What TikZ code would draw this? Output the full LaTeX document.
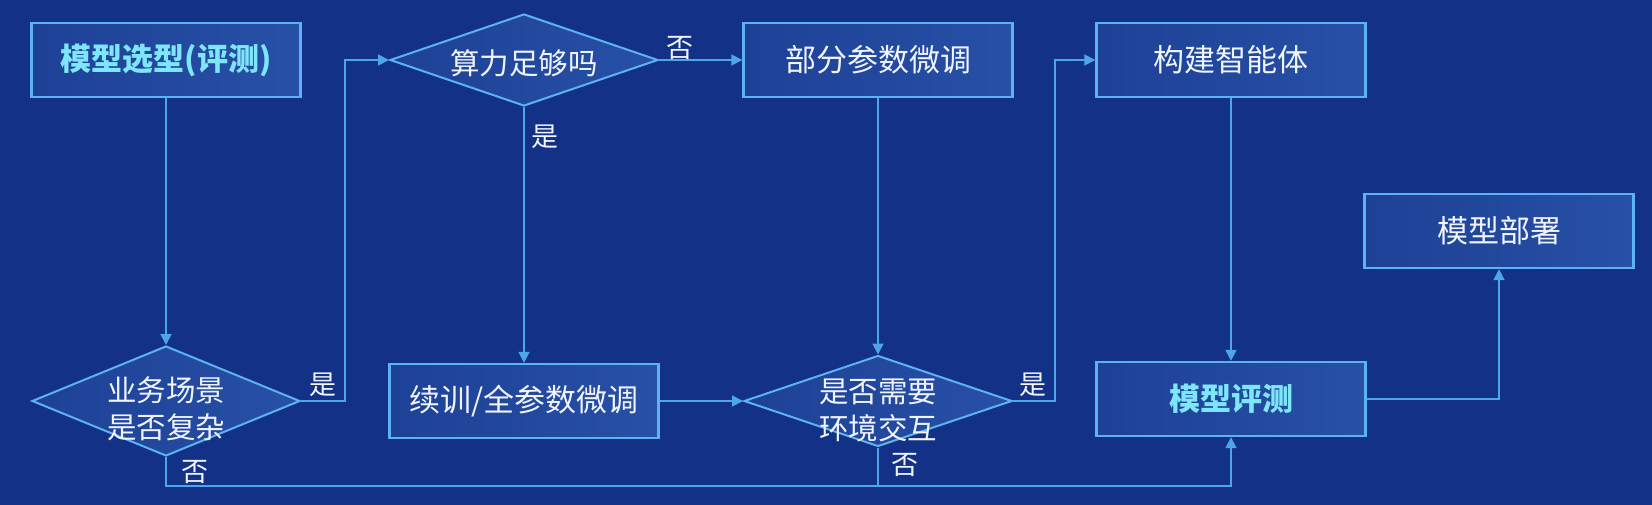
\documentclass[tikz,border=0pt]{standalone}
\usepackage{fontspec}
\setmainfont{Noto Sans CJK SC}
\usetikzlibrary{shapes.geometric,arrows.meta}
\definecolor{bg}{HTML}{133186}
\definecolor{boxL}{HTML}{1D4196}
\definecolor{boxR}{HTML}{2750A6}
\definecolor{border}{HTML}{5CB2F2}
\definecolor{conn}{HTML}{4EA6EA}
\definecolor{txt}{HTML}{F0F4FF}
\definecolor{hl}{HTML}{7DE6FA}
\tikzset{
  stepbox/.style={draw=border, line width=2.4pt, left color=boxL, right color=boxR,
    minimum width=269pt, minimum height=74pt, inner sep=0pt, text=txt,
    font=\fontsize{31}{36}\selectfont},
  hlbox/.style={stepbox, text=hl, font=\fontsize{31}{36}\selectfont\bfseries},
  decide/.style={diamond, draw=border, line width=2pt, left color=boxL, right color=boxR,
    inner sep=0pt, minimum width=268pt},
  dtext/.style={text=txt, align=center, inner sep=0pt, font=\fontsize{29.5}{37}\selectfont},
  lbl/.style={text=txt, inner sep=0pt, font=\fontsize{27}{30}\selectfont},
  conn/.style={draw=conn, line width=1.8pt},
  arr/.style={conn, -{Triangle[length=11pt,width=11pt]}},
}
\begin{document}
\begin{tikzpicture}[x=1pt,y=-1pt]
\fill[bg] (0,0) rectangle (1652,505);
\useasboundingbox (0,0) rectangle (1652,505);

% boxes
\node[hlbox]   (b1) at (166,60)   {模型选型(评测)};
\node[stepbox] (bp) at (878,60)   {部分参数微调};
\node[stepbox] (ba) at (1231,60)  {构建智能体};
\node[stepbox] (bd) at (1499,231) {模型部署};
\node[stepbox] (bc) at (524,401)  {续训/全参数微调};
\node[hlbox]   (be) at (1231,399) {模型评测};

% decisions
\node[decide, minimum height=92pt]  (d1) at (524,60)  {};
\node[decide, minimum height=110pt] (d2) at (166,401) {};
\node[decide, minimum height=91pt]  (d3) at (878,401) {};
\node[dtext] (t1) at (524,63)  {算力足够吗};
\node[dtext] (t2) at (166,409) {业务场景\\是否复杂};
\node[dtext] (t3) at (878,410) {是否需要\\环境交互};

% elbow coordinates
\coordinate (e1) at (345,230);
\coordinate (e2) at (1055,230);
\coordinate (e3) at (700,486);

% connectors
\draw[arr] (b1.south) -- (d2.north);
\draw[arr] (d2.east) -| (e1) |- (d1.west);
\draw[arr] (d1.east) -- (bp.west);
\draw[arr] (d1.south) -- (bc.north);
\draw[arr] (bc.east) -- (d3.west);
\draw[arr] (bp.south) -- (d3.north);
\draw[arr] (d3.east) -| (e2) |- (ba.west);
\draw[arr] (ba.south) -- (be.north);
\draw[arr] (d2.south) |- (e3) -| (be.south);
\draw[conn] (d3.south) -- (d3.south |- e3);
\draw[arr] (be.east) -| (bd.south);

% labels
\node[lbl] (l1) at (323,385)  {是};
\node[lbl] (l2) at (195,472)  {否};
\node[lbl] (l3) at (680,48)   {否};
\node[lbl] (l4) at (545,137)  {是};
\node[lbl] (l5) at (1033,385) {是};
\node[lbl] (l6) at (905,465)  {否};
\end{tikzpicture}
\end{document}
